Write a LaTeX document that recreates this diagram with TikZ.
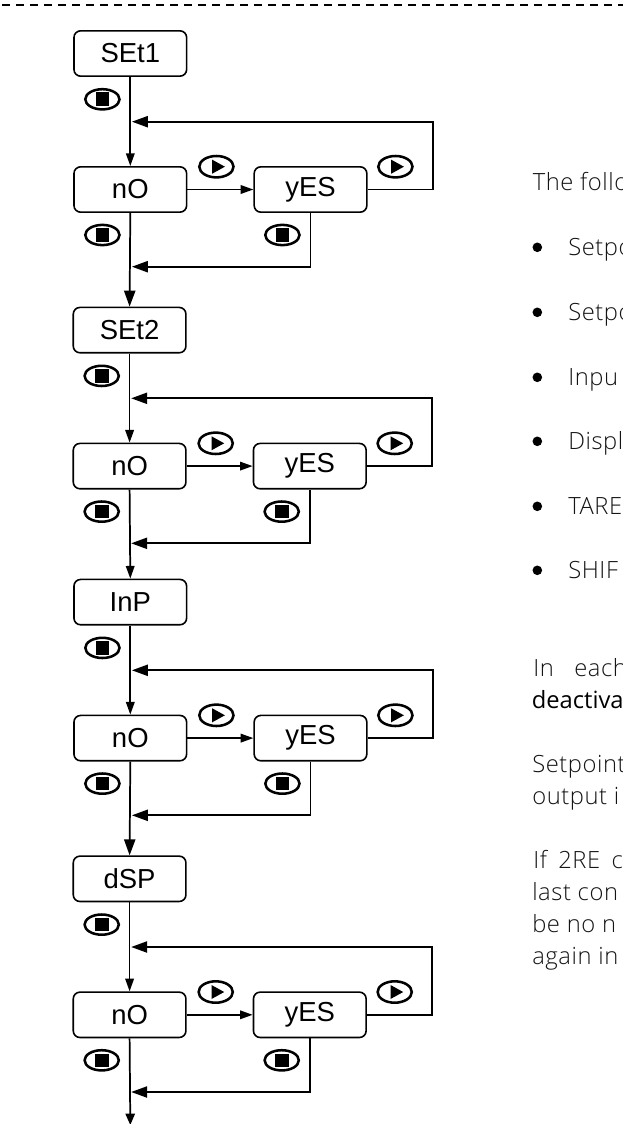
\documentclass[tikz,border=0pt]{standalone}
\usepackage{fontspec}
\setmainfont{Liberation Sans}
\newfontfamily\bodyfont[LetterSpace=2.5]{Open Sans Light}
\newfontfamily\boldfont{Open Sans}
\usetikzlibrary{arrows.meta}
\definecolor{bodygrey}{gray}{0.08}
\tikzset{
  x=0.75pt,y=-0.75pt,
  conn/.style={line width=1.3pt,black},
  smallhead/.style={-{Triangle[length=9.5pt,width=6.4pt]}},
  bighead/.style={-{Triangle[length=12pt,width=8.4pt]}},
  panel/.style={draw,line width=1.2pt,rounded corners=5pt,minimum width=84.5pt,minimum height=34pt,inner sep=0pt,font=\fontsize{20.6}{24}\selectfont},
  body/.style={anchor=base west,inner sep=0pt,font=\bodyfont\fontsize{17.8}{20}\selectfont,text=bodygrey},
  stopkey/.pic={\draw[line width=1.9pt] (0,0) ellipse (17.1 and 10.1);\fill (-6.8,-6.8) rectangle (6.8,6.8);},
  playkey/.pic={\draw[line width=1.9pt] (0,0) ellipse (17.1 and 10.7);\fill (-4.2,-7) -- (8.5,0) -- (-4.2,7) -- cycle;},
}
\newcommand{\panellabel}[1]{\raisebox{-0.7pt}{#1}}
\newcommand{\flowblock}[4]{%
  % #1 id, #2 label, #3 x shift, #4 top
  \begin{scope}[shift={(#3,#4)}]
    \node[panel] (t#1) at (130.3,22.8) {\panellabel{#2}};
    \node[panel] (n#1) at (130.3,158.8) {\panellabel{nO}};
    \node[panel] (y#1) at (310.5,158.8) {\panellabel{yES}};
    \coordinate (ja#1) at (131.9,91);
    \coordinate (jb#1) at (131.9,236);
    \coordinate (r#1) at (432.7,91);
    \pic at (102.4,68.6) {stopkey};
    \pic at (216.4,136) {playkey};
    \pic at (395.4,136) {playkey};
    \pic at (102.4,204.3) {stopkey};
    \pic at (282.4,204.3) {stopkey};
  \end{scope}
  \draw[conn,smallhead] (t#1.south) -- (n#1.north);
  \draw[conn,smallhead] (n#1.east) -- (y#1.west);
  \draw[conn,bighead] (y#1.east) -| (r#1) -- (ja#1);
  \draw[conn,bighead] (y#1.south) |- (jb#1);
}
\begin{document}
\begin{tikzpicture}
\useasboundingbox (0,0) rectangle (623,1124);
\clip (0,0) rectangle (623,1124);
\coordinate (dashl) at (2,5);
\coordinate (dashr) at (623,5);
\draw[line width=1.2pt,dash pattern=on 6pt off 4.5pt] (dashl) -- (dashr);

\flowblock{a}{SEt1}{0}{30.7}
\flowblock{b}{SEt2}{-0.7}{307.3}
\flowblock{c}{InP}{0}{579.3}
\flowblock{d}{dSP}{-0.7}{856}
\coordinate (finish) at (130.3,1125);
\draw[conn,bighead] (na.south) -- (tb.north);
\draw[conn,smallhead] (nb.south) -- (tc.north);
\draw[conn,bighead] (nc.south) -- (td.north);
\draw[conn,-{Triangle[length=8.5pt,width=7pt]}] (nd.south) -- (finish);

\node[body] (l1) at (532.5,190) {The follo};
\foreach \nm/\yy/\tx in {b1/255/Setpo,b2/320/Setpo,b3/385/Inpu,b4/449/Displ,b5/514/TARE,b6/578/SHIF}{
  \node[body] (\nm) at (568,\yy) {\tx};
  \fill (537.3,\yy-7.7) circle (4.8);
}
\node[body] (l2) at (533,676) {In};
\node[body] (l3) at (574,676) {each};
\node[body,font=\boldfont\fontsize{17.8}{20}\selectfont,text=black] (l4) at (531.5,708) {deactiva};
\node[body] (l5) at (532,772) {Setpoint};
\node[body] (l6) at (532,804) {output i};
\node[body] (l7) at (533,868) {\spaceskip=8.5pt If 2RE c};
\node[body] (l8) at (532,900) {last con};
\node[body] (l9) at (532,932) {be no n};
\node[body] (l10) at (532,964) {again in};
\end{tikzpicture}
\end{document}
